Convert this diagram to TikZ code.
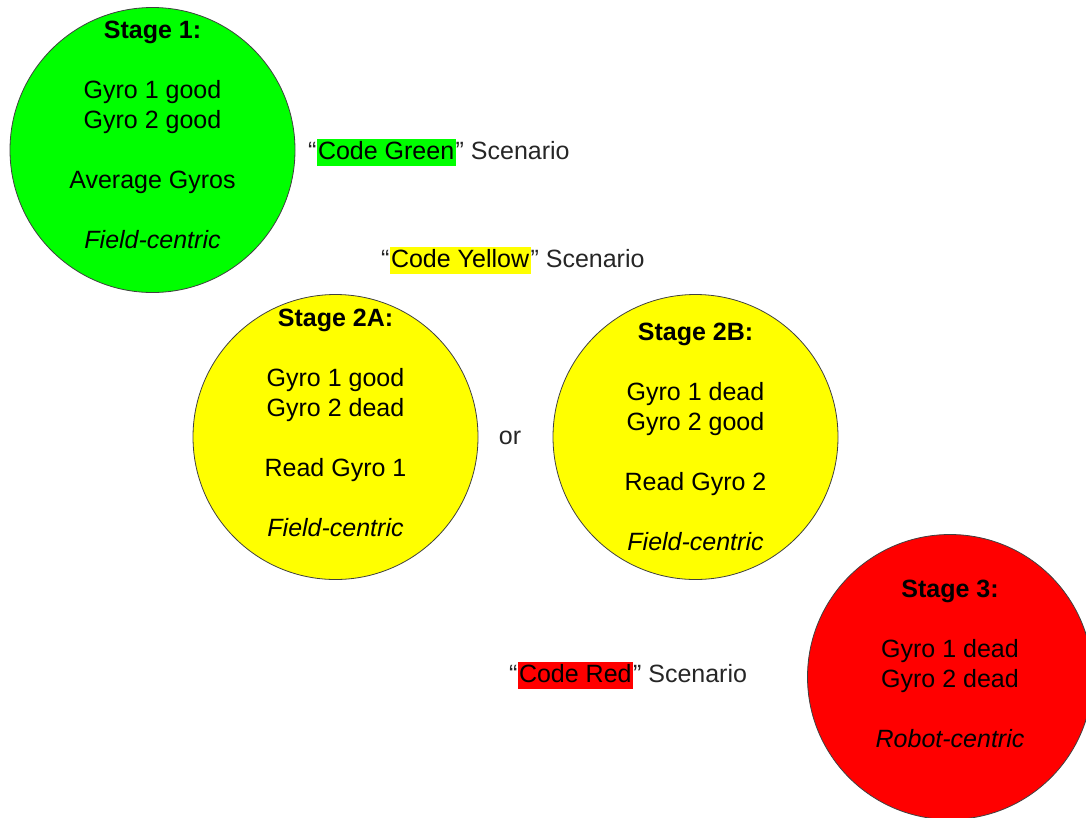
\documentclass[tikz,border=0pt]{standalone}
\usepackage{xcolor}
\usepackage{fontspec}
\setmainfont{Liberation Sans}
\usepackage{tikz}
\usetikzlibrary{calc}
\definecolor{codegreen}{HTML}{00FF00}
\definecolor{codeyellow}{HTML}{FFFF00}
\definecolor{codered}{HTML}{FF0000}
\tikzset{
  stage/.style={circle, draw=black!75, line width=0.8pt, minimum size=285pt, inner sep=0pt},
  stagetext/.style={align=center, inner sep=0pt, font=\fontsize{25}{30}\selectfont},
  scenario/.style={inner sep=0pt, anchor=base west, text=black!85, font=\fontsize{25}{30}\selectfont}
}
\newcommand{\hilite}[2]{{\setlength{\fboxsep}{1.5pt}\colorbox{#1}{\textcolor{black}{\vphantom{Cg}#2}}}}

\begin{document}
\begin{tikzpicture}[x=1pt, y=-1pt]

                \useasboundingbox (0,0) rectangle (1086,817);

                % Stage circles
                \node[stage, fill=codegreen] (s1) at (152.5,150) {};
                \node[stage, fill=codeyellow] (s2a) at (335.5,437) {};
                \node[stage, fill=codeyellow] (s2b) at (695.5,437) {};
                \node[stage, fill=codered] (s3) at (950,677) {};

                % Text inside the circles
                \node[stagetext] (s1txt) at ($(s1.center)+(0,-15)$)
                  {\textbf{Stage 1:}\\[30pt] Gyro 1 good\\ Gyro 2 good\\[30pt] Average Gyros\\[30pt] \textit{Field-centric}};
                \node[stagetext] (s2atxt) at ($(s2a.center)+(0,-14.5)$)
                  {\textbf{Stage 2A:}\\[30pt] Gyro 1 good\\ Gyro 2 dead\\[30pt] Read Gyro 1\\[30pt] \textit{Field-centric}};
                \node[stagetext] (s2btxt) at (s2b.center)
                  {\textbf{Stage 2B:}\\[30pt] Gyro 1 dead\\ Gyro 2 good\\[30pt] Read Gyro 2\\[30pt] \textit{Field-centric}};
                \node[stagetext] (s3txt) at ($(s3.center)+(0,-13.5)$)
                  {\textbf{Stage 3:}\\[30pt] Gyro 1 dead\\ Gyro 2 dead\\[30pt] \textit{Robot-centric}};

                % Scenario labels
                \node[scenario] (green) at (308,159) {``\hilite{codegreen}{Code Green}'' Scenario};
                \node[scenario] (yellow) at (381,267) {``\hilite{codeyellow}{Code Yellow}'' Scenario};
                \node[scenario] (red) at (509,682) {``\hilite{codered}{Code Red}'' Scenario};

                % Between the two yellow stages
                \node[scenario, anchor=base] (or) at (510,444) {or};

            \end{tikzpicture}
\end{document}
